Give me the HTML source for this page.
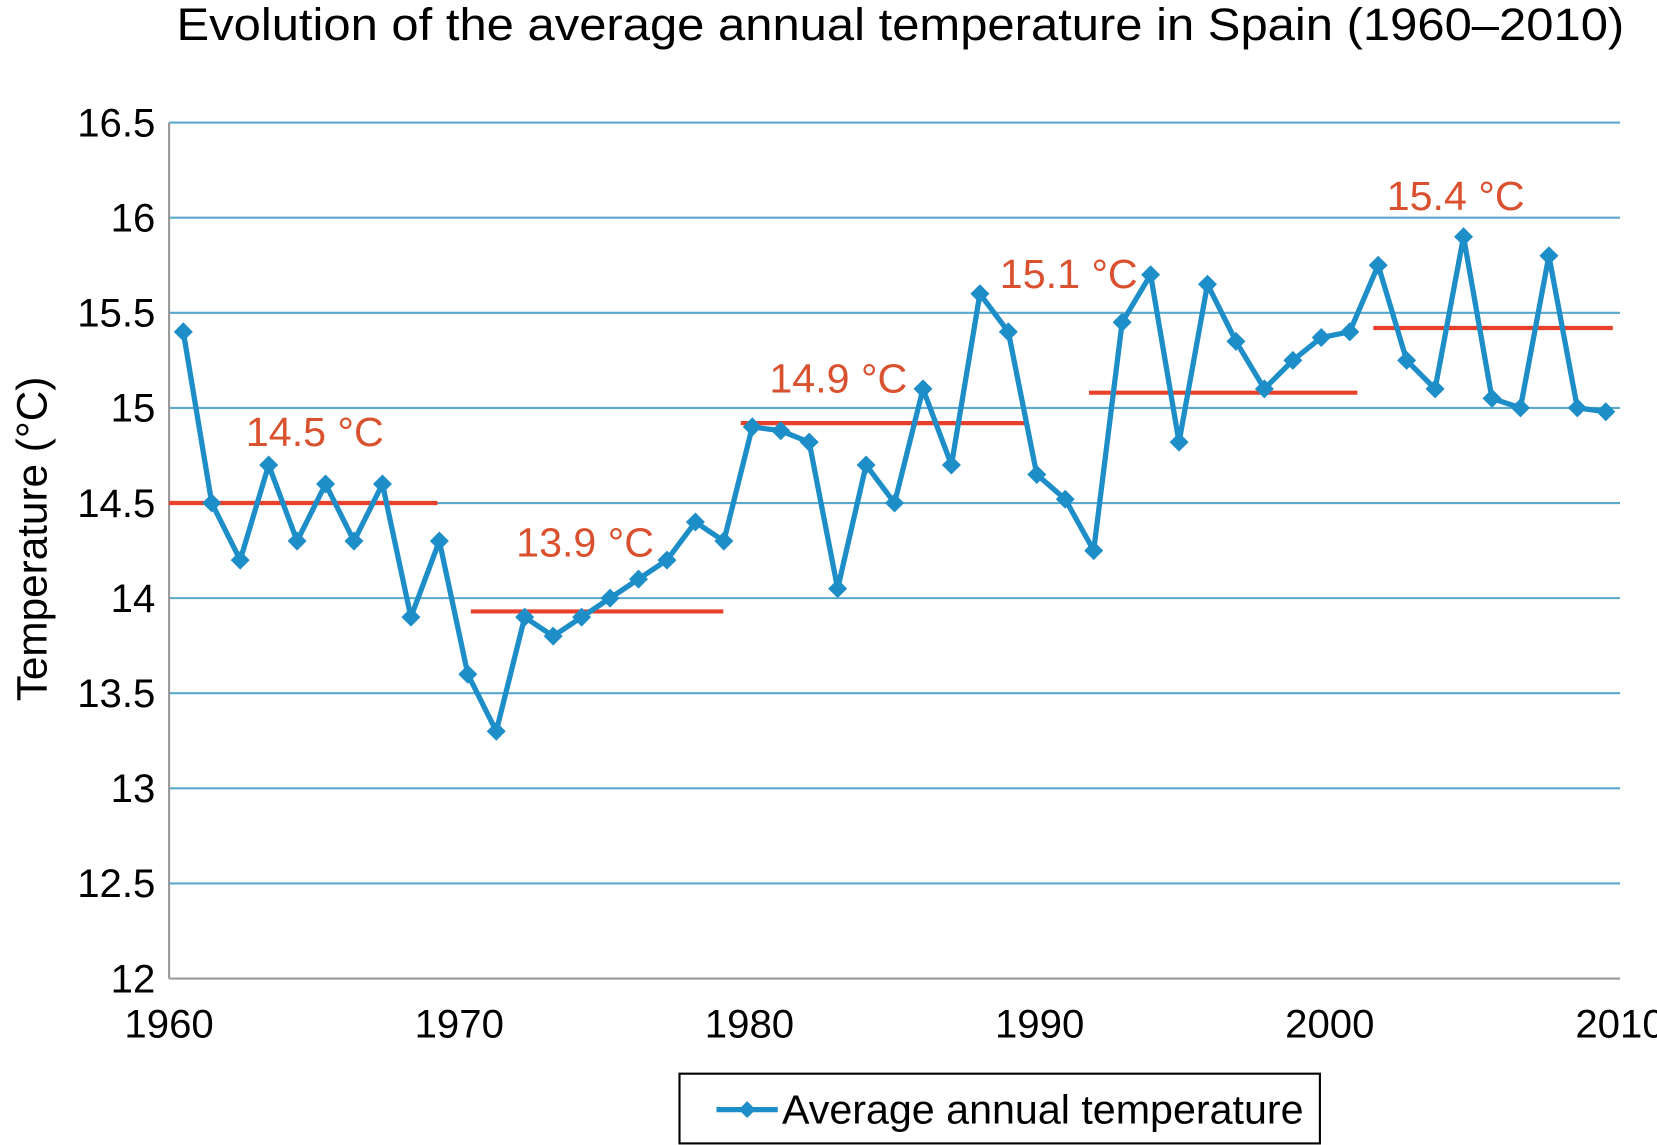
<!DOCTYPE html>
<html><head><meta charset="utf-8"><style>
html,body{margin:0;padding:0;background:#fff;}
svg{display:block;font-family:"Liberation Sans",Arial,sans-serif;}
</style></head><body>
<svg id="chart" width="1657" height="1145" viewBox="0 0 1568 1083.5" preserveAspectRatio="none" xmlns="http://www.w3.org/2000/svg">
<text x="167" y="38" font-size="43" textLength="1370" lengthAdjust="spacingAndGlyphs" fill="#000">Evolution  of the average annual temperature in Spain (1960–2010)</text>
<text transform="translate(44,510) rotate(-90)" font-size="40" text-anchor="middle" fill="#000">Temperature (°C)</text>
<g id="grid"></g><g id="means"></g><g id="series"></g><g id="labels"></g>
<g>
<rect x="643" y="1016" width="606" height="66" fill="#fff" stroke="#000" stroke-width="2"/>
<line x1="678" y1="1050" x2="736" y2="1050" stroke="#1e8ec8" stroke-width="5"/>
<path d="M707 1042 L715 1050 L707 1058 L699 1050Z" fill="#1e8ec8"/>
<text x="740" y="1063" font-size="39" fill="#000">Average annual temperature</text>
</g>
</svg>
<script>
const years = [];
for (let y = 1960; y <= 2010; y++) years.push(y);
const temps = [15.4,14.5,14.2,14.7,14.3,14.6,14.3,14.6,13.9,14.3,13.6,13.3,13.9,13.8,13.9,14.0,14.1,14.2,14.4,14.3,14.9,14.88,14.82,14.05,14.7,14.5,15.1,14.7,15.6,15.4,14.65,14.52,14.25,15.45,15.7,14.82,15.65,15.35,15.1,15.25,15.37,15.4,15.75,15.25,15.1,15.9,15.05,15.0,15.8,15.0,14.98];
const yTicks = [12,12.5,13,13.5,14,14.5,15,15.5,16,16.5];
const xTickYears = [1960,1970,1980,1990,2000,2010];
const meanStart = [1960,1970.4,1979.7,1991.7,2001.5];
const meanEnd = [1969.25,1979.1,1989.5,2000.95,2009.75];
const meanValues = [14.5,13.93,14.92,15.08,15.42];
const meanLabels = ["14.5 °C","13.9 °C","14.9 °C","15.1 °C","15.4 °C"];
const labelYear = [1962.2,1971.7,1980.6,1988.7,2002.3];
const labelValue = [14.80,14.22,15.08,15.63,16.04];

const L=160,R=1533,T=116,B=926,NS="http://www.w3.org/2000/svg";
const step=(R-L)/years.length;
const xs=yr=>L+step*(yr-1960+0.5);
const xa=yr=>L+(R-L)*(yr-1960)/50;
const ys=v=>B-(v-12)/4.5*(B-T);
function mk(p,tag,at){const e=document.createElementNS(NS,tag);for(const k in at)e.setAttribute(k,at[k]);document.getElementById(p).appendChild(e);return e;}
yTicks.forEach(v=>{
  const g=mk('grid','line',{x1:L,x2:R,y1:ys(v),y2:ys(v),stroke:v===12?'#999':'#5aa8cc','stroke-width':2});
  
  
  const t=mk('grid','text',{x:147,y:ys(v)+13,'font-size':38,'text-anchor':'end',fill:'#000'});
  t.textContent=String(v);
  
  
});
const ax=mk('grid','line',{x1:L,x2:L,y1:T,y2:B,stroke:'#999','stroke-width':2});


xTickYears.forEach(yr=>{
  const t=mk('grid','text',{x:xa(yr),y:982,'font-size':38,'text-anchor':'middle',fill:'#000'});
  t.textContent=String(yr);
  
  
});
meanValues.forEach((v,i)=>{
  const l=mk('means','line',{x1:xa(meanStart[i]),x2:xa(meanEnd[i]),y1:ys(v),y2:ys(v),stroke:'#e8402a','stroke-width':4});
  
  
  const t=mk('labels','text',{x:xs(labelYear[i]),y:ys(labelValue[i]),'font-size':39,fill:'#d9512e'});
  t.textContent=meanLabels[i];
  
  
});
const pts=temps.map((v,i)=>xs(years[i])+','+ys(v)).join(' ');
const pl=mk('series','polyline',{points:pts,fill:'none',stroke:'#1e8ec8','stroke-width':5,'stroke-linejoin':'round'});


temps.forEach((v,i)=>{
  const x=xs(years[i]),y=ys(v);
  const m=mk('series','path',{d:`M${x} ${y-9}L${x+9} ${y}L${x} ${y+9}L${x-9} ${y}Z`,fill:'#1e8ec8'});
  
  
});
</script>
</body></html>
